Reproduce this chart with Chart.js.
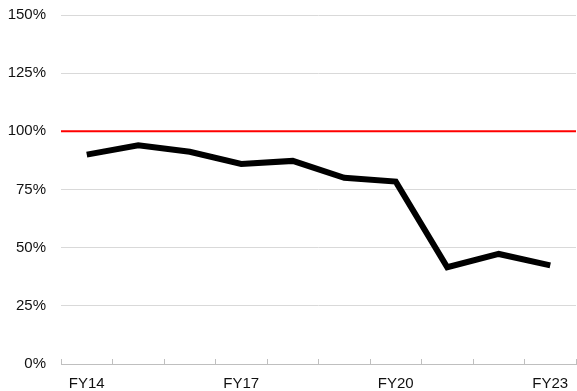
<!DOCTYPE html>
<html>
<head>
<meta charset="utf-8">
<script src="https://cdn.jsdelivr.net/npm/chart.js@4/dist/chart.umd.min.js"></script>
<style>
  html, body { margin: 0; padding: 0; background: #fff; overflow: hidden; }
  #wrap { position: relative; width: 577px; height: 409px; }
</style>
</head>
<body>
<div id="wrap"><canvas id="ratio_chart"></canvas></div>
<script>
// fiscal years and ratio (%) per year
const years = ['FY14', 'FY15', 'FY16', 'FY17', 'FY18', 'FY19', 'FY20', 'FY21', 'FY22', 'FY23'];
const ratio = [90, 94, 91.2, 86, 87.3, 80, 78.4, 41.6, 47.3, 42.4];
const shownYears = ['FY14', 'FY17', 'FY20', 'FY23'];
const target = 100;
const yTicks = [0, 25, 50, 75, 100, 125, 150];

let ctx = document.getElementById('ratio_chart');
let ratioChart = new Chart(ctx, {
    type: 'line',
    data: {
        labels: years,
        datasets: [{
            label: 'Ratio',
            data: ratio,
            borderColor: '#000000',
            borderWidth: 6,
            borderJoinStyle: 'miter',
            borderCapStyle: 'butt',
            pointRadius: 0,
            tension: 0,
            order: 1
        }, {
            // 100% reference line, full width of the plot
            label: 'Target',
            data: [{x: 0, y: target}, {x: 1, y: target}],
            xAxisID: 'xFull',
            borderColor: '#ff0000',
            borderWidth: 2,
            pointRadius: 0,
            order: 2
        }]
    },
    options: {
        responsive: true,
        maintainAspectRatio: false,
        animation: false,
        layout: { padding: { left: 0, right: 1, top: 15, bottom: 0 } },
        plugins: { legend: { display: false }, tooltip: { enabled: false } },
        scales: {
            x: {
                type: 'category',
                offset: true,
                afterFit: function(axis) {
                    axis.paddingLeft = 0;
                    axis.paddingRight = 0;
                },
                grid: {
                    offset: true,
                    drawOnChartArea: false,
                    tickLength: -5,
                    color: '#bfbfbf'
                },
                border: { color: '#bfbfbf', width: 1 },
                ticks: {
                    autoSkip: false,
                    maxRotation: 0,
                    padding: 16,
                    color: '#111',
                    font: { family: 'Liberation Sans, Arial', size: 15 },
                    callback: function(value) {
                        let name = this.getLabelForValue(value);
                        return shownYears.includes(name) ? name : '';
                    }
                }
            },
            xFull: {
                type: 'linear',
                min: 0,
                max: 1,
                display: false
            },
            y: {
                min: 0,
                max: 150,
                afterBuildTicks: function(axis) {
                    axis.ticks = yTicks.map(v => ({ value: v }));
                },
                afterFit: function(axis) {
                    axis.width = 61;
                    axis.paddingTop = 0;
                    axis.paddingBottom = 0;
                },
                grid: {
                    color: function(c) { return c.tick.value === 0 ? 'rgba(0,0,0,0)' : '#d9d9d9'; },
                    drawTicks: false
                },
                border: { display: false },
                ticks: {
                    padding: 15,
                    color: '#111',
                    font: { family: 'Liberation Sans, Arial', size: 15 },
                    callback: function(value) { return value + '%'; }
                }
            }
        }
    }
});
</script>
</body>
</html>
